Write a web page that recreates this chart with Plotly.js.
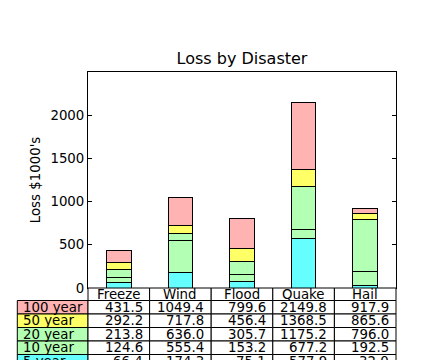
<!DOCTYPE html>
<html>
<head>
<meta charset="utf-8">
<script src="https://cdn.plot.ly/plotly-3.0.1.min.js"></script>
<style>html,body{margin:0;padding:0;background:#fff;overflow:hidden;}</style>
</head>
<body>
<div id="chart" style="width:440px;height:360px;"></div>
<script>
// ---- data ----
const categories = ['Freeze', 'Wind', 'Flood', 'Quake', 'Hail'];
const rowLabels = ['100 year', '50 year', '20 year', '10 year', '5 year']; // table order, top to bottom
// losses per return period (in $), bottom of stack first
const loss5yr   = [66386, 174296, 75131, 577908, 32015];
const loss10yr  = [58230, 381139, 78045, 99308, 160454];
const loss20yr  = [89135, 80552, 152558, 497981, 603535];
const loss50yr  = [78415, 81858, 150656, 193263, 69638];
const loss100yr = [139361, 331509, 343164, 781380, 52269];
const yTickVals = [0, 500, 1000, 1500, 2000];

const stackSeries = [loss5yr, loss10yr, loss20yr, loss50yr, loss100yr]; // bottom -> top
const stackNames  = ['5 year', '10 year', '20 year', '50 year', '100 year'];
const stackColors = ['#66FFFF', '#B3FFB3', '#B3FFB3', '#FFFF66', '#FFB3B3'];

// ---- layout geometry (pixels) ----
const plotL = 88, plotR = 396, plotT = 72, plotB = 288;
const plotW = plotR - plotL, plotH = plotB - plotT;
const FONT = 'DejaVu Sans';
const FS = 13.33;

const traces = stackSeries.map((s, k) => ({
  type: 'bar',
  x: categories,
  y: s.map(v => v / 1000),
  width: 0.4,
  name: stackNames[k],
  marker: {color: stackColors[k], line: {color: '#000', width: 1}},
  hoverinfo: 'skip'
}));

// cumulative values for table
const cumRows = [];
let acc = categories.map(() => 0);
stackSeries.forEach(s => {
  acc = acc.map((a, i) => a + s[i]);
  cumRows.push(acc.slice());
});
const tableRows = cumRows.slice().reverse();            // 100 year first
const tableColors = stackColors.slice().reverse();

const py = p => (plotB - p) / plotH;   // pixel y -> paper y
const px = p => (p - plotL) / plotW;   // pixel x -> paper x
const headerH = 12.5, rowH = 13.5;
const lineY = [plotB, plotB + headerH];
for (let r = 0; r < rowLabels.length; r++) lineY.push(lineY[lineY.length - 1] + rowH);
const labelX0 = px(17.3);
const nC = categories.length;

const shapes = [];
const annotations = [];
// header
categories.forEach((c, i) => {
  shapes.push({type: 'rect', xref: 'paper', yref: 'paper', x0: i / nC, x1: (i + 1) / nC,
    y0: py(lineY[0]), y1: py(lineY[1]), line: {color: '#000', width: 1}, fillcolor: '#fff'});
  annotations.push({xref: 'paper', yref: 'paper', x: (i + 0.5) / nC, y: py((lineY[0] + lineY[1]) / 2),
    text: c, showarrow: false, xanchor: 'center', yanchor: 'middle', borderpad: 0,
    font: {family: FONT, size: FS, color: '#000'}});
});
// body
rowLabels.forEach((lab, r) => {
  const y0 = lineY[r + 1], y1 = lineY[r + 2];
  shapes.push({type: 'rect', xref: 'paper', yref: 'paper', x0: labelX0, x1: 0,
    y0: py(y0), y1: py(y1), line: {color: '#000', width: 1}, fillcolor: tableColors[r]});
  annotations.push({xref: 'paper', yref: 'paper', x: labelX0, xshift: 5, y: py((y0 + y1) / 2),
    text: lab, showarrow: false, xanchor: 'left', yanchor: 'middle', borderpad: 0,
    font: {family: FONT, size: FS, color: '#000'}});
  categories.forEach((c, i) => {
    shapes.push({type: 'rect', xref: 'paper', yref: 'paper', x0: i / nC, x1: (i + 1) / nC,
      y0: py(y0), y1: py(y1), line: {color: '#000', width: 1}, fillcolor: '#fff'});
    annotations.push({xref: 'paper', yref: 'paper', x: (i + 1) / nC, xshift: -6, y: py((y0 + y1) / 2),
      text: (tableRows[r][i] / 1000).toFixed(1), showarrow: false, xanchor: 'right', yanchor: 'middle', borderpad: 0,
      font: {family: FONT, size: FS, color: '#000'}});
  });
});

const layout = {
  width: 440, height: 360,
  margin: {l: plotL, r: 440 - plotR, t: plotT, b: 360 - plotB, pad: 0},
  paper_bgcolor: '#fff', plot_bgcolor: '#fff',
  showlegend: false,
  barmode: 'stack',
  font: {family: FONT, size: FS, color: '#000'},
  title: {text: 'Loss by Disaster', font: {family: FONT, size: 16, color: '#000'},
    xref: 'paper', x: 0.5, xanchor: 'center', yref: 'container', y: 1 - 58 / 360, yanchor: 'middle'},
  xaxis: {type: 'category', range: [-0.5, nC - 0.5], showticklabels: false, ticks: '',
    showline: true, linecolor: '#000', linewidth: 1, mirror: true, showgrid: false, zeroline: false, fixedrange: true},
  yaxis: {range: [0, 2500], tickvals: yTickVals, ticktext: yTickVals.map(String), ticks: 'inside', ticklen: 4,
    tickcolor: '#000', tickwidth: 1, showline: true, linecolor: '#000', linewidth: 1, mirror: 'allticks',
    showgrid: false, zeroline: false, tickfont: {family: FONT, size: FS, color: '#000'},
    title: {text: "Loss $1000's", font: {family: FONT, size: FS, color: '#000'}, standoff: 6}},
  shapes: shapes,
  annotations: annotations
};

Plotly.newPlot('chart', traces, layout, {staticPlot: true, displayModeBar: false});
</script>
</body>
</html>
